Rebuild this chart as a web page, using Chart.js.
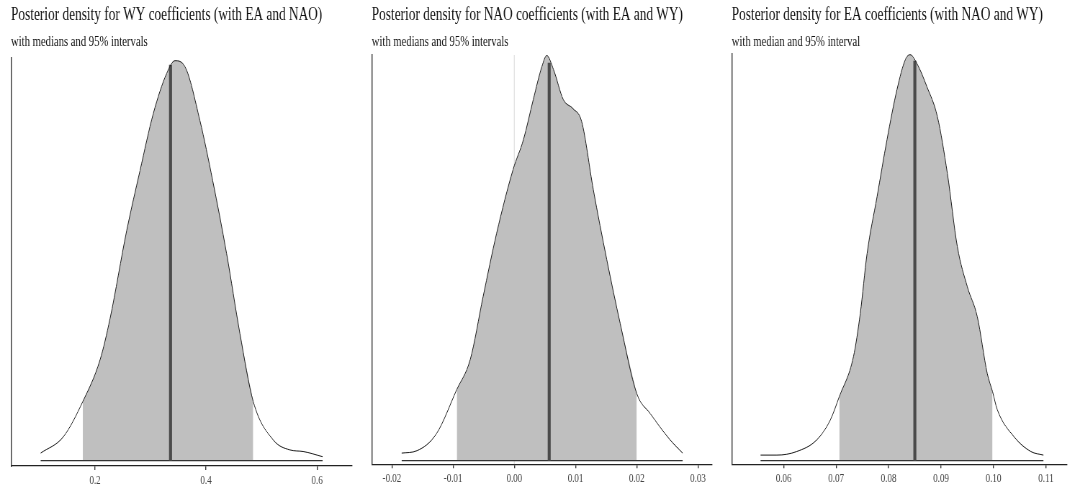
<!DOCTYPE html>
<html><head><meta charset="utf-8">
<script src="https://cdn.jsdelivr.net/npm/chart.js@4.4.1/dist/chart.umd.min.js"></script>
<style>
html,body{margin:0;padding:0;background:#fff;width:1070px;height:495px;overflow:hidden;}
.panel{position:absolute;top:0;transform-origin:0 0;}
canvas{display:block;}
</style></head><body>
<div class="panel" id="p1"><canvas id="c1"></canvas></div>
<div class="panel" id="p2"><canvas id="c2"></canvas></div>
<div class="panel" id="p3"><canvas id="c3"></canvas></div>
<script>
// ---------- DATA ----------
// WY coefficient posterior density (relative height)
const wyX = [0.102,0.143,0.178,0.209,0.227,0.257,0.281,0.305,0.329,0.344,0.362,0.389,0.412,0.437,0.461,0.485,0.521,0.551,0.575,0.610];
const wyDensity = [0.019,0.060,0.148,0.252,0.355,0.575,0.725,0.868,0.968,1.000,0.985,0.850,0.700,0.518,0.318,0.148,0.052,0.027,0.023,0.010];
const wyInterval = [0.178, 0.485];
const wyMedian = 0.336;
const wyMedianDensity = 0.99;
const wyTicks = [0.2, 0.4, 0.6];
const wyTickLabels = ['0.2', '0.4', '0.6'];

// NAO coefficient posterior density
const naoX = [-0.0184,-0.0159,-0.0127,-0.0094,-0.0072,-0.0051,-0.0029,-0.0002,0.0015,0.0031,0.0045,0.0053,0.0064,0.0080,0.0096,0.0110,0.0129,0.0151,0.0173,0.0200,0.0222,0.0254,0.0275];
const naoDensity = [0.019,0.025,0.068,0.178,0.253,0.410,0.568,0.728,0.803,0.903,0.985,1.013,0.978,0.903,0.880,0.848,0.678,0.503,0.343,0.168,0.118,0.053,0.019];
const naoInterval = [-0.0094, 0.0200];
const naoMedian = 0.0057;
const naoMedianDensity = 0.995;
const naoTicks = [-0.02, -0.01, 0.00, 0.01, 0.02, 0.03];
const naoTickLabels = ['-0.02', '-0.01', '0.00', '0.01', '0.02', '0.03'];

// EA coefficient posterior density
const eaX = [0.0556,0.0587,0.0625,0.0663,0.0689,0.0706,0.0733,0.0746,0.0759,0.0778,0.0797,0.0816,0.0832,0.0841,0.0854,0.0873,0.0893,0.0912,0.0931,0.0950,0.0969,0.0988,0.0998,0.1007,0.1039,0.1071,0.1095];
const eaDensity = [0.014,0.014,0.023,0.052,0.102,0.160,0.260,0.368,0.518,0.660,0.803,0.928,1.003,1.015,0.993,0.935,0.860,0.718,0.535,0.435,0.360,0.218,0.173,0.128,0.060,0.023,0.014];
const eaInterval = [0.0706, 0.0998];
const eaMedian = 0.0850;
const eaMedianDensity = 1.0;
const eaTicks = [0.06, 0.07, 0.08, 0.09, 0.10, 0.11];
const eaTickLabels = ['0.06', '0.07', '0.08', '0.09', '0.10', '0.11'];

const titles = [
  'Posterior density for WY coefficients (with EA and NAO)',
  'Posterior density for NAO coefficients (with EA and WY)',
  'Posterior density for EA coefficients (with NAO and WY)'
];
const subtitles = [
  'with medians and 95% intervals',
  'with medians and 95% intervals',
  'with median and 95% interval'
];

// ---------- LAYOUT / STYLE ----------
const S = 0.72;           // horizontal squeeze of the original figure
const H = 495;
const FONT = 'Liberation Serif';
const TITLE_SIZE = 18.5, SUB_SIZE = 14.8, TICK_SIZE = 12.5;

const panels = [
  {div:'p1', canvas:'c1', left:0,   width:358, aLeft:11,   aRight:352, aTop:58, aBottom:466,
   xMin:0.0486, xMax:0.663, yMin:-0.01325, yMax:1.00675, zero:false,
   xs:wyX, ys:wyDensity, interval:wyInterval, median:wyMedian, medianD:wyMedianDensity,
   ticks:wyTicks, labels:wyTickLabels, title:titles[0], subtitle:subtitles[0]},
  {div:'p2', canvas:'c2', left:360, width:358, aLeft:11.7, aRight:352, aTop:55, aBottom:464.3,
   xMin:-0.0233, xMax:0.0323, yMin:-0.009, yMax:1.01425, zero:true,
   xs:naoX, ys:naoDensity, interval:naoInterval, median:naoMedian, medianD:naoMedianDensity,
   ticks:naoTicks, labels:naoTickLabels, title:titles[1], subtitle:subtitles[1]},
  {div:'p3', canvas:'c3', left:720, width:350, aLeft:11.7, aRight:347, aTop:54, aBottom:464.3,
   xMin:0.0501, xMax:0.1140, yMin:-0.009, yMax:1.01675, zero:false,
   xs:eaX, ys:eaDensity, interval:eaInterval, median:eaMedian, medianD:eaMedianDensity,
   ticks:eaTicks, labels:eaTickLabels, title:titles[2], subtitle:subtitles[2]}
];

function makePanel(cfg) {
  const W = Math.round(cfg.width / S);
  const div = document.getElementById(cfg.div);
  div.style.left = cfg.left + 'px';
  div.style.width = W + 'px';
  div.style.height = H + 'px';
  div.style.transform = 'scaleX(' + S + ')';
  const canvas = document.getElementById(cfg.canvas);
  canvas.width = W; canvas.height = H;

  const pts = cfg.xs.map((x, i) => ({x: x, y: cfg.ys[i]}));
  const shade = pts.filter(p => p.x >= cfg.interval[0] - 1e-9 && p.x <= cfg.interval[1] + 1e-9);

  const datasets = [
    {data: pts, borderColor:'#1a1a1a', borderWidth:1, fill:false, order:1, cubicInterpolationMode:'monotone'},
    {data: [{x:cfg.median, y:0}, {x:cfg.median, y:cfg.medianD}], borderColor:'#4a4a4a', borderWidth:3/S, fill:false, order:2},
    {data: [{x:pts[0].x, y:0}, {x:pts[pts.length-1].x, y:0}], borderColor:'#333333', borderWidth:1.3, fill:false, order:3},
    {data: shade, backgroundColor:'#bfbfbf', borderColor:'rgba(0,0,0,0)', borderWidth:0, fill:'origin', order:4, cubicInterpolationMode:'monotone'}
  ];
  if (cfg.zero) {
    datasets.push({data: [{x:0, y:cfg.yMin}, {x:0, y:cfg.yMax}], borderColor:'#e2e2e2', borderWidth:1/S, fill:false, order:5});
  }

  const titleH = TITLE_SIZE * 1.2 + 4;
  const subTop = 7;
  const subBottom = cfg.aTop - (titleH + subTop + SUB_SIZE * 1.2);

  new Chart(canvas, {
    type: 'line',
    data: {datasets: datasets},
    options: {
      responsive: false, animation: false, devicePixelRatio: 1,
      layout: {padding: {left: cfg.aLeft / S, right: W - cfg.aRight / S, top: 0, bottom: 0}},
      elements: {point: {radius: 0, hoverRadius: 0}, line: {borderCapStyle: 'butt', tension: 0}},
      plugins: {
        legend: {display: false}, tooltip: {enabled: false},
        title: {display: true, text: cfg.title, align: 'start', color: '#111',
                font: {family: FONT, size: TITLE_SIZE, weight: 'normal'}, padding: {top: 4, bottom: 0}},
        subtitle: {display: true, text: cfg.subtitle, align: 'start', color: '#111',
                font: {family: FONT, size: SUB_SIZE, weight: 'normal'}, padding: {top: subTop, bottom: subBottom}}
      },
      scales: {
        x: {
          type: 'linear', min: cfg.xMin, max: cfg.xMax,
          afterBuildTicks: s => { s.ticks = cfg.ticks.map(v => ({value: v})); },
          afterFit: s => { s.height = H - cfg.aBottom; },
          ticks: {callback: (v, i) => cfg.labels[i], color: '#444', autoSkip: false, maxRotation: 0,
                  font: {family: FONT, size: TICK_SIZE}, padding: 3},
          grid: {drawOnChartArea: false, drawTicks: true, tickLength: 4, color: '#333', lineWidth: 1/S, tickWidth: 1/S},
          border: {display: true, color: '#222', width: 1.2}
        },
        y: {
          min: cfg.yMin, max: cfg.yMax,
          afterFit: s => { s.width = 0; },
          ticks: {display: false},
          grid: {display: false},
          border: {display: true, color: '#333', width: 1/S}
        }
      }
    }
  });
}
panels.forEach(makePanel);
</script>
</body></html>
